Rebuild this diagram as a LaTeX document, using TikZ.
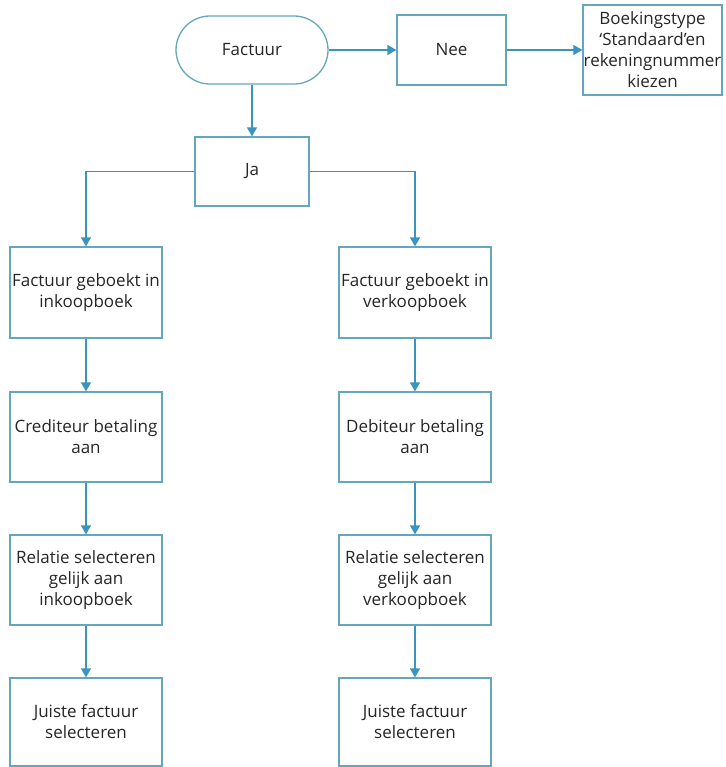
\documentclass[tikz,border=0pt]{standalone}
\usepackage{fontspec}
\setmainfont{Open Sans}
\usetikzlibrary{arrows.meta,shapes.misc}
\definecolor{edgecol}{RGB}{58,148,190}
\definecolor{framecol}{RGB}{100,166,190}
\begin{document}
\begin{tikzpicture}[x=1pt,y=-1pt,
  box/.style={draw=framecol,line width=1.3pt,fill=white,align=center,inner sep=0pt,
    font=\fontsize{17}{21}\selectfont,text=black!85},
  term/.style={box,rounded rectangle},
  conn/.style={draw=edgecol,line width=1.4pt,-{Triangle[width=10pt,length=9pt]}}]
\useasboundingbox (0,0) rectangle (725,767);
\fill[white] (0,0) rectangle (725,767);
% top row
\node[term,minimum width=152,minimum height=68] (fact) at (252,50) {Factuur};
\node[box,minimum width=109,minimum height=70] (nee) at (451.5,50) {Nee};
\node[box,minimum width=139,minimum height=90] (boek) at (652.5,50)
  {Boekingstype\\‘Standaard’en\\rekeningnummer\\kiezen};
\node[box,minimum width=114,minimum height=69] (ja) at (252,171.5) {Ja};
% left column
\node[box,minimum width=152,minimum height=91] (l1) at (86,292.5) {Factuur geboekt in\\inkoopboek};
\node[box,minimum width=152,minimum height=90] (l2) at (86,437) {Crediteur betaling\\aan};
\node[box,minimum width=152,minimum height=90] (l3) at (86,580) {Relatie selecteren\\gelijk aan\\inkoopboek};
\node[box,minimum width=152,minimum height=88] (l4) at (86,722) {Juiste factuur\\selecteren};
% right column
\node[box,minimum width=152,minimum height=91] (r1) at (415,292.5) {Factuur geboekt in\\verkoopboek};
\node[box,minimum width=152,minimum height=90] (r2) at (415,437) {Debiteur betaling\\aan};
\node[box,minimum width=152,minimum height=90] (r3) at (415,580) {Relatie selecteren\\gelijk aan\\verkoopboek};
\node[box,minimum width=152,minimum height=88] (r4) at (415,722) {Juiste factuur\\selecteren};
% connectors
\draw[conn] (fact.east) -- (nee.west);
\draw[conn] (nee.east) -- (boek.west);
\draw[conn] (fact.south) -- (ja.north);
\draw[conn] (ja.west) -| (l1.north);
\draw[conn] (ja.east) -| (r1.north);
\draw[conn] (l1.south) -- (l2.north);
\draw[conn] (l2.south) -- (l3.north);
\draw[conn] (l3.south) -- (l4.north);
\draw[conn] (r1.south) -- (r2.north);
\draw[conn] (r2.south) -- (r3.north);
\draw[conn] (r3.south) -- (r4.north);
\end{tikzpicture}
\end{document}
